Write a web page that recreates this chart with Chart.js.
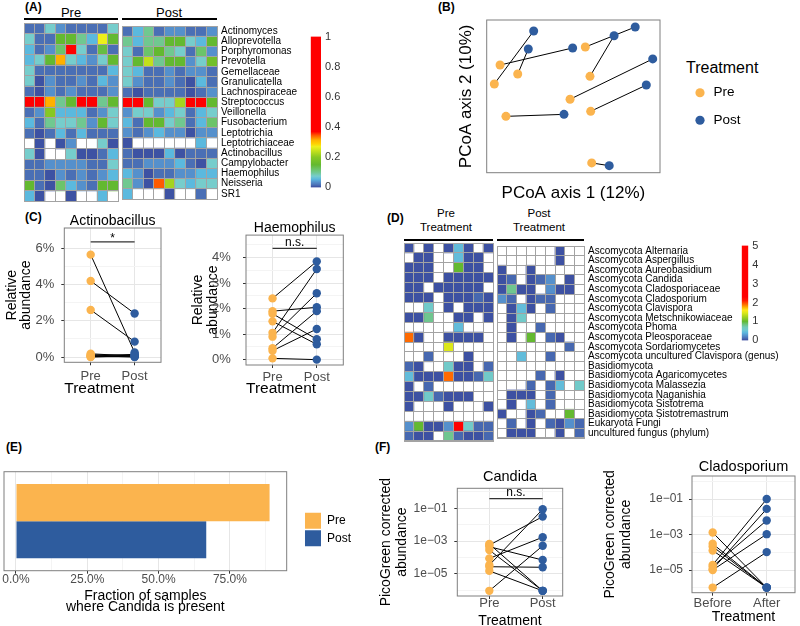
<!DOCTYPE html>
<html>
<head>
<meta charset="utf-8">
<script src="https://cdn.jsdelivr.net/npm/chart.js@4.4.1/dist/chart.umd.min.js"></script>
<style>
  html, body { margin: 0; padding: 0; background: #fff; }
  body { width: 800px; height: 626px; position: relative; overflow: hidden; font-family: 'Liberation Sans', Arial, Helvetica, sans-serif; }
  canvas { position: absolute; }
  .txt { position: absolute; white-space: nowrap; line-height: 1; transform: translate(-50%, -50%); color: #000; }
  .ltxt { position: absolute; white-space: nowrap; line-height: 1; transform: translateY(-50%); color: #000; }
  .tag { position: absolute; white-space: nowrap; font-weight: bold; font-size: 12px; line-height: 1; transform: translateY(-50%); }
  .rule { position: absolute; height: 0; border-top: 2px solid #000; }
</style>
</head>
<body>
<div class="tag" style="left:25px;top:7px">(A)</div>
<div class="tag" style="left:438px;top:7px">(B)</div>
<div class="tag" style="left:25px;top:217px">(C)</div>
<div class="tag" style="left:387px;top:218px">(D)</div>
<div class="tag" style="left:6px;top:447px">(E)</div>
<div class="tag" style="left:375px;top:447px">(F)</div>

<div class="txt" style="left:71px;top:12px;font-size:13px">Pre</div>
<div class="txt" style="left:169px;top:12px;font-size:13px">Post</div>
<div class="rule" style="left:24px;top:18px;width:94px"></div>
<div class="rule" style="left:122px;top:18px;width:95px"></div>

<div class="txt" style="left:446px;top:214px;font-size:11.5px">Pre</div>
<div class="txt" style="left:446px;top:228px;font-size:11.5px">Treatment</div>
<div class="txt" style="left:539px;top:214px;font-size:11.5px">Post</div>
<div class="txt" style="left:539px;top:228px;font-size:11.5px">Treatment</div>
<div class="rule" style="left:404px;top:239px;width:89px"></div>
<div class="rule" style="left:497px;top:239px;width:87px"></div>

<div class="ltxt" style="left:686px;top:68px;font-size:16px">Treatment</div>

<script>
// ---------- data ----------
const groups = ['Pre', 'Post'];

// (A) bacterial taxa, relative abundance per sample (null = absent)
const taxaA = ['Actinomyces', 'Alloprevotella', 'Porphyromonas', 'Prevotella', 'Gemellaceae',
  'Granulicatella', 'Lachnospiraceae', 'Streptococcus', 'Veillonella', 'Fusobacterium',
  'Leptotrichia', 'Leptotrichiaceae', 'Actinobacillus', 'Campylobacter', 'Haemophilus',
  'Neisseria', 'SR1'];
const heatAPre = [
  [.015, .015, .075, .035, .015, .015, .015, .015, .075],
  [.075, .015, .015, .15, .15, .1, .055, .27, .15],
  [.055, .015, .035, .12, .6, .075, .015, .14, .015],
  [.055, .075, .15, .315, .075, .055, .035, .075, .15],
  [.075, .015, .015, .015, .015, .015, .015, .015, .055],
  [.075, .003, .035, .015, .015, .035, .015, .055, .035],
  [.015, .003, .035, .015, .035, .015, .015, .015, .035],
  [.6, .6, .315, .1, .15, .6, .6, .1, .15],
  [.015, .035, .2, .055, .055, .055, .015, .035, .075],
  [.055, .015, .1, .075, .075, .1, .035, .15, .075],
  [.015, .003, .015, .055, .015, .055, .015, .015, .015],
  [null, .003, null, .003, .035, null, null, .075, .003],
  [.075, .003, null, null, .075, .003, .003, .015, .055],
  [.015, .015, .035, .035, .035, .035, .015, .015, .075],
  [.015, .015, .003, .035, .015, .035, .015, .035, .055],
  [.15, .015, .003, .12, .055, .035, .015, .15, .15],
  [.055, .003, null, null, .003, null, null, .055, null]
];
const heatAPost = [
  [.015, .055, .1, .015, .035, .035, .015, .015, .035],
  [.1, .055, .1, .1, .15, .15, .075, .055, .15],
  [.075, .015, .12, .15, .1, .075, .015, .12, .035],
  [.075, .15, .24, .1, .15, .15, .035, .075, .17],
  [.075, .055, .015, .015, .035, .015, .035, .035, .015],
  [.075, .035, .015, .015, .035, .015, .003, .055, .015],
  [.015, .003, .015, .015, .015, .015, .003, .015, .035],
  [.6, .6, .15, .075, .075, .22, .6, .6, .15],
  [.035, .075, .075, .035, .055, .075, .015, .055, .075],
  [.055, .015, .15, .15, .075, .1, .015, .055, .12],
  [.035, .015, .035, .055, .035, .035, .003, .035, .035],
  [.003, null, null, null, null, null, null, .055, null],
  [.015, .003, .003, .003, .055, .003, .015, .015, .015],
  [.015, .015, .035, .035, .035, .055, .015, .003, .075],
  [.055, .035, .003, .015, .015, .035, .035, .055, .055],
  [.1, .035, .003, .345, .22, .075, .055, .075, .075],
  [.055, null, null, null, .003, null, null, .015, null]
];

// (B) PCoA coordinates, index i of Pre is paired with index i of Post
const pcoaPreX = [7.7, 17.9, 4.4, 56.9, 59.6, 48.1, 11.1, 60.0, 60.6];
const pcoaPreY = [70.5, 64.6, 58.1, 82.3, 63.1, 48.1, 36.9, 40.2, 6.4];
const pcoaPostX = [49.6, 24.0, 27.1, 85.7, 73.5, 95.8, 44.6, 92.1, 70.7];
const pcoaPostY = [81.7, 81.0, 92.8, 95.4, 89.7, 74.5, 38.2, 57.4, 4.6];

// (C) relative abundance (%), paired
const actinoPre = [5.65, 4.2, 2.6, 0.18, 0.12, 0.08, 0.05, 0.02, 0.0];
const actinoPost = [0.25, 2.4, 0.85, 0.05, 0.1, 0.0, 0.15, 0.02, 0.08];
const actinoTicks = [0, 2, 4, 6];
const actinoMinor = [1, 3, 5];
const haemoPre = [2.4, 1.9, 1.8, 1.5, 1.05, 0.9, 0.45, 0.35, 0.05];
const haemoPost = [3.85, 2.05, 0.8, 0.6, 3.55, 2.6, 1.9, 1.2, 0.0];
const haemoTicks = [0, 1, 2, 3, 4];
const haemoMinor = [0.5, 1.5, 2.5, 3.5, 4.5];

// (D) fungal taxa
const taxaD = ['Ascomycota Alternaria', 'Ascomycota Aspergillus', 'Ascomycota Aureobasidium',
  'Ascomycota Candida', 'Ascomycota Cladosporiaceae', 'Ascomycota Cladosporium',
  'Ascomycota Clavispora', 'Ascomycota Metschnikowiaceae', 'Ascomycota Phoma',
  'Ascomycota Pleosporaceae', 'Ascomycota Sordariomycetes',
  'Ascomycota uncultured Clavispora (genus)', 'Basidiomycota', 'Basidiomycota Agaricomycetes',
  'Basidiomycota Malassezia', 'Basidiomycota Naganishia', 'Basidiomycota Sistotrema',
  'Basidiomycota Sistotremastrum', 'Eukaryota Fungi', 'uncultured fungus (phylum)'];
const heatDPre = [
  [.02, null, .02, null, .02, .45, .02, null, .02],
  [null, .02, .02, null, null, .45, .02, .02, null],
  [.02, .02, .02, null, null, 1, .02, .02, null],
  [.02, .02, .02, null, .02, .02, .02, .02, .02],
  [.02, .02, null, .02, .02, .02, .02, .02, null],
  [.02, .02, .02, null, .02, .02, .02, .1, .02],
  [null, null, .6, null, .02, null, .02, .02, .02],
  [.02, .02, .8, null, null, .02, .02, null, .02],
  [null, null, null, null, null, .45, null, null, null],
  [1.9, .02, null, null, .02, .02, .02, .02, null],
  [null, null, null, null, 1.45, null, null, null, null],
  [null, null, .1, null, null, null, .02, null, null],
  [.1, .02, null, null, .6, .02, .02, null, .1],
  [.45, .02, .02, .02, 1.9, .02, .02, .1, .6],
  [.02, null, .1, null, null, null, null, null, null],
  [.02, .02, .6, .1, .02, .02, .02, null, null],
  [.02, null, null, null, .02, null, null, null, .02],
  [null, null, null, null, null, null, null, null, null],
  [.25, 1, .02, .02, .25, 2.5, .6, .1, .1],
  [.1, .02, .02, null, .8, .1, .02, .02, .1]
];
const heatDPost = [
  [null, null, null, null, null, null, .02, null, null],
  [null, null, null, null, null, null, .02, null, null],
  [.02, null, null, .02, null, null, null, null, null],
  [.02, .1, null, .02, .1, .25, null, .02, null],
  [.02, .8, .02, .02, null, .25, .02, .02, null],
  [.25, .1, null, .02, .1, .1, null, null, null],
  [null, .02, .45, .02, null, .1, null, null, null],
  [null, .02, .6, null, null, null, null, null, null],
  [null, .02, null, null, .1, null, null, null, null],
  [null, .02, null, 1, null, .1, .02, null, null],
  [null, null, null, null, null, null, null, .1, null],
  [null, null, .45, null, null, .1, null, null, null],
  [null, null, null, null, null, null, null, null, null],
  [null, null, null, null, .1, null, .02, null, null],
  [null, null, null, .1, null, .1, .45, null, .6],
  [null, .02, .02, .02, null, .1, null, null, null],
  [null, .02, null, .45, null, .1, null, null, null],
  [.02, null, null, .02, .1, null, null, 1, null],
  [null, .1, null, .02, null, .1, .02, .25, .1],
  [null, .02, .02, .02, null, null, .02, null, .1]
];

// (E) fraction of samples with Candida present (%), Pre / Post
const candidaFrac = [88.9, 66.7];
const fracTicks = [0, 25, 50, 75];
const fracMinor = [12.5, 37.5, 62.5, 87.5];

// (F) PicoGreen corrected abundance, paired
const candidaPre = [6.6e-4, 5.6e-4, 4.5e-4, 2.8e-4, 8.7e-5, 3.4e-5, 2.7e-5, 1.5e-5, 9.1e-7];
const candidaPost = [9.1e-7, 3.1e-2, 6.9e-5, 9.1e-7, 1.7e-3, 8.7e-2, 2.5e-5, 9.1e-7, 5.1e-4];
const cladoBefore = [1.3e-3, 3.0e-4, 2.1e-4, 1.26e-4, 1.95e-5, 1.6e-5, 1.12e-5, 1.0e-5, 1.02e-6];
const cladoAfter = [1.02e-6, 1.02e-6, 1.02e-6, 1.02e-6, 1.0e-1, 6.2e-3, 2.8e-2, 1.05e-3, 1.02e-4];
const picoTicks = [1e-5, 1e-3, 1e-1];
const picoMinor = [1e-6, 1e-4, 1e-2, 1];

// colour scales
const stopsA = [[0, '#3b4da0'], [0.006, '#3f56a5'], [0.015, '#4a6fb5'], [0.035, '#5590cc'],
  [0.055, '#5bb9de'], [0.075, '#76cdcc'], [0.1, '#70c890'], [0.12, '#6cc46a'], [0.15, '#63b930'],
  [0.2, '#86c822'], [0.24, '#c2e01c'], [0.27, '#eef01a'], [0.29, '#ffd000'], [0.315, '#ffb000'],
  [0.345, '#ff5a00'], [0.37, '#ff0000'], [1, '#ff0000']];
const stopsD = [[0, '#3b4da0'], [0.05, '#3f56a5'], [0.12, '#4a6fb5'], [0.25, '#5590cc'],
  [0.4, '#5bb6de'], [0.55, '#70c9d2'], [0.7, '#74cbb8'], [0.85, '#6cc47a'], [1.0, '#63b930'],
  [1.25, '#a5d41e'], [1.45, '#dce81a'], [1.6, '#ffe81a'], [1.75, '#ffb000'], [1.9, '#ff6a00'],
  [2.1, '#ff1a00'], [2.3, '#ff0000'], [5, '#ff0000']];

const ORANGE = '#fbb44e';
const BLUE = '#2e5c9e';
const FRAME = '#7f7f7f';
const CELL_LINE = '#a3a3a3';
const FONT = "'Liberation Sans', Arial, Helvetica, sans-serif";

// ---------- setup ----------
Chart.defaults.font.family = FONT;
Chart.defaults.color = '#000';
Chart.defaults.animation = false;
Chart.defaults.responsive = false;
Chart.defaults.devicePixelRatio = 1;
Chart.defaults.plugins.legend.display = false;
Chart.defaults.plugins.tooltip.enabled = false;

// grey box round the plot area, like theme_bw
const framePlugin = {
  id: 'frame',
  afterDatasetsDraw(chart, args, opts) {
    if (!opts.color) return;
    const a = chart.chartArea, c = chart.ctx;
    c.save();
    c.strokeStyle = opts.color;
    c.lineWidth = 1;
    c.strokeRect(a.left, a.top, a.right - a.left, a.bottom - a.top);
    c.restore();
  }
};
// "*" / "n.s." above the comparison bar
const sigLabelPlugin = {
  id: 'sigLabel',
  afterDatasetsDraw(chart, args, opts) {
    if (!opts.text) return;
    const {x, y} = chart.scales;
    const c = chart.ctx;
    c.save();
    c.font = '12px ' + FONT;
    c.fillStyle = '#000';
    c.textAlign = 'center';
    c.textBaseline = 'middle';
    c.fillText(opts.text, (x.getPixelForValue(1) + x.getPixelForValue(2)) / 2, y.getPixelForValue(opts.y) + opts.dy);
    c.restore();
  }
};
Chart.register(framePlugin, sigLabelPlugin);

function makeCanvas(x, y, w, h) {
  const c = document.createElement('canvas');
  c.width = w; c.height = h;
  c.style.left = x + 'px'; c.style.top = y + 'px';
  c.style.width = w + 'px'; c.style.height = h + 'px';
  document.body.appendChild(c);
  return c;
}

function hexToRgb(h) {
  const n = parseInt(h.slice(1), 16);
  return [n >> 16 & 255, n >> 8 & 255, n & 255];
}
function colorAt(stops, v) {
  if (v <= stops[0][0]) return stops[0][1];
  for (let i = 1; i < stops.length; i++) {
    if (v <= stops[i][0]) {
      const [v0, c0] = stops[i - 1], [v1, c1] = stops[i];
      const t = (v - v0) / (v1 - v0);
      const a = hexToRgb(c0), b = hexToRgb(c1);
      return 'rgb(' + a.map((q, k) => Math.round(q + (b[k] - q) * t)).join(',') + ')';
    }
  }
  return stops[stops.length - 1][1];
}

function gridOpts() {
  return {
    color: c => (c.tick && c.tick.minor) ? '#f4f4f4' : '#e6e6e6',
    lineWidth: 1,
    drawTicks: true,
    tickLength: 3,
    tickColor: c => (c.tick && c.tick.minor) ? 'rgba(0,0,0,0)' : '#333'
  };
}
function withMinor(major, minor) {
  return major.map(v => ({value: v})).concat(minor.map(v => ({value: v, minor: true})))
    .sort((a, b) => a.value - b.value);
}

// ---------- heatmaps ----------
function heatmap(canvas, pad, rows, values, stops, showLabels, labelWidth) {
  const ncol = values[0].length;
  const datasets = [];
  for (let c = 0; c < ncol; c++) {
    datasets.push({
      data: values.map(r => r[c] == null ? null : [c, c + 1]),
      backgroundColor: values.map(r => r[c] == null ? '#fff' : colorAt(stops, r[c])),
      borderWidth: 0
    });
  }
  return new Chart(canvas, {
    type: 'bar',
    data: {labels: rows, datasets},
    options: {
      indexAxis: 'y',
      layout: {padding: pad},
      datasets: {bar: {grouped: false, barPercentage: 1, categoryPercentage: 1}},
      scales: {
        x: {
          type: 'linear', min: 0, max: ncol, position: 'bottom',
          ticks: {display: false, stepSize: 1},
          grid: {color: CELL_LINE, drawTicks: false, z: 1},
          border: {color: CELL_LINE, z: 1},
          afterFit: s => { s.height = 0; }
        },
        y: {
          type: 'category', position: 'right', offset: true,
          ticks: {display: showLabels, padding: 4, font: {size: 10}, color: '#000', autoSkip: false},
          grid: {color: CELL_LINE, drawTicks: false, offset: true, z: 1},
          border: {color: CELL_LINE, z: 1},
          afterFit: s => { s.width = labelWidth; }
        }
      }
    }
  });
}

function colorbar(canvas, pad, max, step, stops, axisWidth) {
  return new Chart(canvas, {
    type: 'bar',
    data: {
      labels: [''],
      datasets: [{
        data: [[0, max]],
        borderWidth: 0,
        backgroundColor: ctx => {
          const ch = ctx.chart;
          if (!ch.chartArea) return '#fff';
          const ys = ch.scales.y;
          const g = ch.ctx.createLinearGradient(0, ys.getPixelForValue(0), 0, ys.getPixelForValue(max));
          stops.forEach(([v, c]) => g.addColorStop(Math.min(v / max, 1), c));
          return g;
        }
      }]
    },
    options: {
      layout: {padding: pad},
      datasets: {bar: {barPercentage: 1, categoryPercentage: 1}},
      scales: {
        x: {display: false},
        y: {
          position: 'right', min: 0, max: max,
          ticks: {stepSize: step, padding: 4, font: {size: 11}, color: '#333', callback: v => String(+v.toFixed(1))},
          grid: {display: false, drawTicks: false},
          border: {display: false},
          afterFit: s => { s.width = axisWidth; }
        }
      }
    }
  });
}

heatmap(makeCanvas(23, 22, 96, 181), {left: 1, right: 1, top: 1.3, bottom: 1.7}, taxaA, heatAPre, stopsA, false, 0);
heatmap(makeCanvas(121, 16, 200, 193), {left: 1, right: 0, top: 7.3, bottom: 7.7}, taxaA, heatAPost, stopsA, true, 104);
colorbar(makeCanvas(310, 26, 40, 172), {left: 0.7, right: 0, top: 8, bottom: 7.5}, 1, 0.2, stopsA, 29);

heatmap(makeCanvas(403, 242, 91, 200), {left: 1, right: 1, top: 1, bottom: 1}, taxaD, heatDPre, stopsD, false, 0);
heatmap(makeCanvas(496, 236, 304, 212), {left: 1, right: 0, top: 7, bottom: 7}, taxaD, heatDPost, stopsD, true, 216);
colorbar(makeCanvas(741, 235, 40, 116), {left: 0.7, right: 0, top: 8, bottom: 7}, 5, 1, stopsD, 32.7);

// ---------- (B) PCoA ----------
new Chart(makeCanvas(440, 0, 360, 206), {
  type: 'scatter',
  data: {
    datasets: [
      {label: groups[0], data: pcoaPreX.map((x, i) => ({x, y: pcoaPreY[i]})), backgroundColor: ORANGE,
        borderColor: ORANGE, borderWidth: 0, pointRadius: 4.5, pointStyle: 'circle', order: 0},
      {label: groups[1], data: pcoaPostX.map((x, i) => ({x, y: pcoaPostY[i]})), backgroundColor: BLUE,
        borderColor: BLUE, borderWidth: 0, pointRadius: 4.5, pointStyle: 'circle', order: 0}
    ].concat(pcoaPreX.map((x, i) => ({
      label: '', showLine: true, order: 1, borderColor: '#000', borderWidth: 1, pointRadius: 0,
      data: [{x, y: pcoaPreY[i]}, {x: pcoaPostX[i], y: pcoaPostY[i]}]
    })))
  },
  options: {
    layout: {padding: {top: 20, right: 58.75}},
    plugins: {
      frame: {color: FRAME},
      legend: {
        display: true, position: 'right', align: 'start', maxWidth: 62,
        title: {display: true, text: '', font: {size: 10, lineHeight: 1}, padding: {top: 42, bottom: 0}},
        labels: {usePointStyle: true, boxWidth: 13.5, boxHeight: 6.5, padding: 14,
          font: {size: 13.5}, color: '#000', filter: it => it.text !== ''}
      }
    },
    scales: {
      x: {
        type: 'linear', min: 0, max: 100,
        ticks: {display: false}, grid: {display: false}, border: {display: false},
        title: {display: true, text: 'PCoA axis 1 (12%)', font: {size: 17}, color: '#000', padding: {top: 0, bottom: 2.5}},
        afterFit: s => { s.height = 33.3; }
      },
      y: {
        type: 'linear', min: 0, max: 100,
        ticks: {display: false}, grid: {display: false}, border: {display: false},
        title: {display: true, text: 'PCoA axis 2 (10%)', font: {size: 17}, color: '#000', padding: {top: 16.5, bottom: 0}},
        afterFit: s => { s.width = 46.7; }
      },
      gap: {
        type: 'linear', axis: 'y', position: 'right',
        ticks: {display: false}, grid: {display: false}, border: {display: false},
        afterFit: s => { s.width = 19.25; }
      }
    }
  }
});

// ---------- paired dot plots (C) and (F) ----------
function pairedChart(canvas, o) {
  const lines = o.pre.map((v, i) => ({
    label: '', showLine: true, order: 2, borderColor: '#000', borderWidth: 1, pointRadius: 0,
    data: [{x: 1, y: v}, {x: 2, y: o.post[i]}]
  }));
  if (o.sig) {
    lines.push({label: '', showLine: true, order: 1, borderColor: '#333', borderWidth: 1.3, pointRadius: 0,
      data: [{x: 1, y: o.sig.y}, {x: 2, y: o.sig.y}]});
  }
  return new Chart(canvas, {
    type: 'scatter',
    data: {
      datasets: [
        {label: o.xLabels[0], data: o.pre.map(v => ({x: 1, y: v})), backgroundColor: ORANGE, borderWidth: 0, pointRadius: 4.2, order: 0},
        {label: o.xLabels[1], data: o.post.map(v => ({x: 2, y: v})), backgroundColor: BLUE, borderWidth: 0, pointRadius: 4.2, order: 0}
      ].concat(lines)
    },
    options: {
      layout: {padding: {right: o.padRight}},
      plugins: {
        frame: {color: FRAME},
        sigLabel: o.sig || {},
        title: {display: true, text: o.title, fullSize: false, color: '#000',
          font: {size: o.titleSize, weight: 'normal'}, padding: o.titlePad}
      },
      scales: {
        x: {
          type: 'linear', min: o.xMin, max: o.xMax,
          afterBuildTicks: s => { s.ticks = [{value: 1}, {value: 2}]; },
          ticks: {callback: v => o.xLabels[v - 1], font: {size: 13}, color: '#4d4d4d', padding: o.xTickPad, autoSkip: false, maxRotation: 0},
          grid: gridOpts(), border: {display: false},
          title: {display: true, text: 'Treatment', align: o.xTitleAlign, font: {size: o.xTitleSize}, color: '#000', padding: {top: 0, bottom: o.xTitlePad}},
          afterFit: s => { s.height = o.xHeight; }
        },
        y: {
          type: o.yType, min: o.yMin, max: o.yMax,
          afterBuildTicks: s => { s.ticks = withMinor(o.yMajor, o.yMinor); },
          ticks: {callback: (v, i, t) => t[i].minor ? '' : o.yFmt(v), font: {size: o.yTickSize}, color: '#4d4d4d', padding: o.yTickPad, autoSkip: false},
          grid: gridOpts(), border: {display: false},
          title: {display: true, text: o.yTitle, font: {size: 14, lineHeight: o.yTitleLH}, color: '#000', padding: {top: o.yTitlePad, bottom: 0}},
          afterFit: s => { s.width = o.yWidth; }
        }
      }
    }
  });
}

const pct = v => v + '%';
const sci = v => {
  const e = Math.round(Math.log10(v));
  return '1e' + (e < 0 ? '\u2212' : '+') + String(Math.abs(e)).padStart(2, '0');
};

pairedChart(makeCanvas(0, 213, 170, 187), {
  title: 'Actinobacillus', titleSize: 14, titlePad: {top: 0, bottom: -1.8},
  pre: actinoPre, post: actinoPost, xLabels: groups, xMin: 0.4, xMax: 2.6,
  yType: 'linear', yMin: -0.29, yMax: 7.12, yMajor: actinoTicks, yMinor: actinoMinor, yFmt: pct,
  yTitle: ['Relative', 'abundance'], yTitleLH: 1.05, yTitlePad: 4.35, yWidth: 64.3, yTickPad: 7, yTickSize: 13,
  xHeight: 37.7, xTickPad: 2.9, xTitlePad: 1.7, xTitleSize: 15.5, xTitleAlign: 'start', padRight: 9,
  sig: {text: '*', y: 6.35, dy: -3.1}
});
pairedChart(makeCanvas(180, 215, 175, 185), {
  title: 'Haemophilus', titleSize: 14, titlePad: {top: 0, bottom: -1.8},
  pre: haemoPre, post: haemoPost, xLabels: groups, xMin: 0.4, xMax: 2.6,
  yType: 'linear', yMin: -0.21, yMax: 4.88, yMajor: haemoTicks, yMinor: haemoMinor, yFmt: pct,
  yTitle: ['Relative', 'abundance'], yTitleLH: 1.07, yTitlePad: 10.95, yWidth: 66, yTickPad: 12.3, yTickSize: 13,
  xHeight: 35, xTickPad: 1.2, xTitlePad: 1.7, xTitleSize: 15.5, xTitleAlign: 'start', padRight: 11.7,
  sig: {text: 'n.s.', y: 4.36, dy: -5.8}
});
pairedChart(makeCanvas(375, 468, 200, 162), {
  title: 'Candida', titleSize: 14.5, titlePad: {top: 0.6, bottom: 2.3},
  pre: candidaPre, post: candidaPost, xLabels: groups, xMin: 0.4, xMax: 2.375,
  yType: 'logarithmic', yMin: 4.4e-7, yMax: 1.66, yMajor: picoTicks, yMinor: picoMinor, yFmt: sci,
  yTitle: ['PicoGreen corrected', 'abundance'], yTitleLH: 1.15, yTitlePad: 2.95, yWidth: 82.3, yTickPad: 7, yTickSize: 12,
  xHeight: 34, xTickPad: -3.3, xTitlePad: 0.8, xTitleSize: 14, xTitleAlign: 'center', padRight: 12.3,
  sig: {text: 'n.s.', y: 0.39, dy: -5.8}
});
pairedChart(makeCanvas(598, 455, 202, 175), {
  title: 'Cladosporium', titleSize: 14.5, titlePad: {top: 3, bottom: 0.6},
  pre: cladoBefore, post: cladoAfter, xLabels: ['Before', 'After'], xMin: 0.617, xMax: 2.524,
  yType: 'logarithmic', yMin: 5.25e-7, yMax: 2.0, yMajor: picoTicks, yMinor: picoMinor, yFmt: sci,
  yTitle: ['PicoGreen corrected', 'abundance'], yTitleLH: 1.15, yTitlePad: 3.95, yWidth: 94, yTickPad: 6, yTickSize: 12,
  xHeight: 37.3, xTickPad: -0.2, xTitlePad: 4.1, xTitleSize: 14, xTitleAlign: 'center', padRight: 5,
  sig: null
});

// ---------- (E) fraction bar chart ----------
new Chart(makeCanvas(-14, 460, 394, 166), {
  type: 'bar',
  data: {
    labels: ['Candida'],
    datasets: [
      {label: groups[0], data: [candidaFrac[0]], backgroundColor: ORANGE, borderWidth: 0},
      {label: groups[1], data: [candidaFrac[1]], backgroundColor: BLUE, borderWidth: 0}
    ]
  },
  options: {
    indexAxis: 'y',
    layout: {padding: {top: 11.7, left: 18, right: 19}},
    datasets: {bar: {barPercentage: 1, categoryPercentage: 0.75}},
    plugins: {
      frame: {color: FRAME},
      legend: {
        display: true, position: 'right', align: 'start', fullSize: false,
        title: {display: true, text: '', font: {size: 10, lineHeight: 1}, padding: {top: 29.5, bottom: 0}},
        labels: {boxWidth: 16, boxHeight: 16, padding: 1.5, font: {size: 12}, color: '#000'}
      }
    },
    scales: {
      x: {
        type: 'linear', min: -4.2, max: 94.9,
        afterBuildTicks: s => { s.ticks = withMinor(fracTicks, fracMinor); },
        ticks: {callback: (v, i, t) => t[i].minor ? '' : v.toFixed(1) + '%', font: {size: 12}, color: '#4d4d4d', padding: -0.9, autoSkip: false, maxRotation: 0},
        grid: gridOpts(), border: {display: false},
        title: {display: true, text: ['Fraction of samples', 'where Candida is present'], font: {size: 14, lineHeight: 0.85}, color: '#000', padding: {top: 0, bottom: 12.5}},
        afterFit: s => { s.height = 55.3; }
      },
      y: {display: false},
      gap: {
        type: 'linear', axis: 'y', position: 'right',
        ticks: {display: false}, grid: {display: false}, border: {display: false},
        afterFit: s => { s.width = 16.8; }
      }
    }
  }
});
</script>
</body>
</html>
